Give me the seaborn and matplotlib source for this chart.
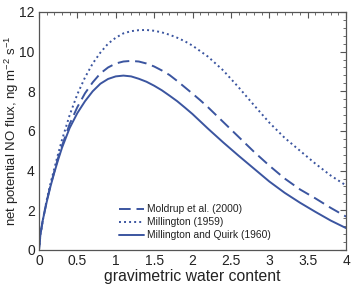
import matplotlib
matplotlib.use("Agg")
import matplotlib.pyplot as plt
from matplotlib.ticker import MultipleLocator
import seaborn as sns
import pandas as pd

# Moldrup et al. (2000) - dashed
moldrup_x = [0, 0.02, 0.05, 0.1, 0.15, 0.2, 0.25, 0.3, 0.4, 0.5, 0.6, 0.7, 0.8, 0.9, 1.0, 1.1, 1.2,
             1.3, 1.4, 1.5, 1.6, 1.7, 1.8, 1.9, 2.0, 2.1, 2.2, 2.4, 2.6, 2.8, 3.0, 3.2, 3.4, 3.6, 3.8, 4.0]
moldrup_y = [0, 0.8, 1.5, 2.45, 3.25, 3.95, 4.65, 5.25, 6.35, 7.2, 7.9, 8.45, 8.9, 9.2, 9.4, 9.5, 9.53,
             9.5, 9.4, 9.25, 9.05, 8.82, 8.52, 8.2, 7.88, 7.55, 7.2, 6.45, 5.7, 4.95, 4.25, 3.6, 3.05, 2.6, 2.12, 1.68]

# Millington (1959) - dotted
mill_x = [0, 0.02, 0.05, 0.1, 0.15, 0.2, 0.25, 0.3, 0.4, 0.5, 0.6, 0.7, 0.8, 0.9, 1.0, 1.1, 1.2,
          1.3, 1.4, 1.5, 1.6, 1.7, 1.8, 1.9, 2.0, 2.2, 2.4, 2.6, 2.8, 3.0, 3.2, 3.4, 3.6, 3.8, 4.0]
mill_y = [0, 0.8, 1.5, 2.5, 3.35, 4.1, 4.85, 5.55, 6.8, 7.85, 8.7, 9.4, 9.95, 10.4, 10.7, 10.92, 11.03,
          11.08, 11.09, 11.05, 10.97, 10.85, 10.7, 10.52, 10.3, 9.75, 9.05, 8.2, 7.3, 6.42, 5.65, 5.0, 4.35, 3.75, 3.25]

# Millington and Quirk (1960) - solid
mq_x = [0, 0.02, 0.05, 0.1, 0.15, 0.2, 0.25, 0.3, 0.4, 0.5, 0.6, 0.7, 0.8, 0.9, 1.0, 1.1, 1.2,
        1.3, 1.4, 1.5, 1.6, 1.7, 1.8, 1.9, 2.0, 2.2, 2.4, 2.6, 2.8, 3.0, 3.2, 3.4, 3.6, 3.8, 4.0]
mq_y = [0, 0.8, 1.5, 2.4, 3.2, 3.9, 4.55, 5.15, 6.15, 6.9, 7.5, 8.0, 8.38, 8.62, 8.75, 8.79, 8.75,
        8.63, 8.48, 8.28, 8.05, 7.78, 7.5, 7.18, 6.85, 6.12, 5.42, 4.75, 4.1, 3.45, 2.88, 2.38, 1.92, 1.48, 1.1]

labels = ["Moldrup et al. (2000)", "Millington (1959)", "Millington and Quirk (1960)"]
xticks = [0, 0.5, 1, 1.5, 2, 2.5, 3, 3.5, 4]
xticklabels = ["0", "0.5", "1", "1.5", "2", "2.5", "3", "3.5", "4"]
yticks = [0, 2, 4, 6, 8, 10, 12]

sns.set_style("white")
plt.rcParams['font.family'] = ['Liberation Sans', 'DejaVu Sans']
plt.rcParams['mathtext.fontset'] = 'custom'
plt.rcParams['mathtext.rm'] = 'Liberation Sans'
plt.rcParams['mathtext.it'] = 'Liberation Sans'

color = "#3b55a0"
fig = plt.figure(figsize=(3.51, 2.84), dpi=100)
ax = fig.add_axes([0.111, 0.12, 0.875, 0.838])

series = [(moldrup_x, moldrup_y, labels[0], (0, (6, 3))),
          (mill_x, mill_y, labels[1], (0, (1, 1.6))),
          (mq_x, mq_y, labels[2], "-")]
for xs, ys, lab, ls in series:
    df = pd.DataFrame({"x": xs, "y": ys})
    sns.lineplot(data=df, x="x", y="y", ax=ax, color=color, lw=1.4, linestyle=ls, label=lab)

ax.set_xlim(0, 4)
ax.set_ylim(0, 12)
ax.set_xticks(xticks)
ax.set_xticklabels(xticklabels)
ax.set_yticks(yticks)
ax.xaxis.set_minor_locator(MultipleLocator(0.1))
ax.yaxis.set_minor_locator(MultipleLocator(0.4))
ax.tick_params(which="major", direction="in", length=4, width=0.8, top=True, right=True,
               labelsize=10, pad=3, color="#555555", labelcolor="#222222")
ax.tick_params(which="minor", direction="in", length=2, width=0.6, top=True, right=True, color="#555555")
for s in ax.spines.values():
    s.set_color("#555555")
    s.set_linewidth(0.9)

ax.set_xlabel("gravimetric water content", fontsize=11.3, color="#222222", labelpad=1)
ax.set_ylabel("net potential NO flux, ng m$^{-2}$ s$^{-1}$", fontsize=9.5, color="#222222")
ax.yaxis.set_label_coords(-0.06, 0.5)

leg = ax.legend(loc="lower left", bbox_to_anchor=(0.262, 0.04), frameon=False, fontsize=7.4,
                handlelength=2.4, handletextpad=0.3, labelspacing=0.3, borderaxespad=0, borderpad=0)
for t in leg.get_texts():
    t.set_color("#222222")

fig.savefig("out.png", dpi=100)
